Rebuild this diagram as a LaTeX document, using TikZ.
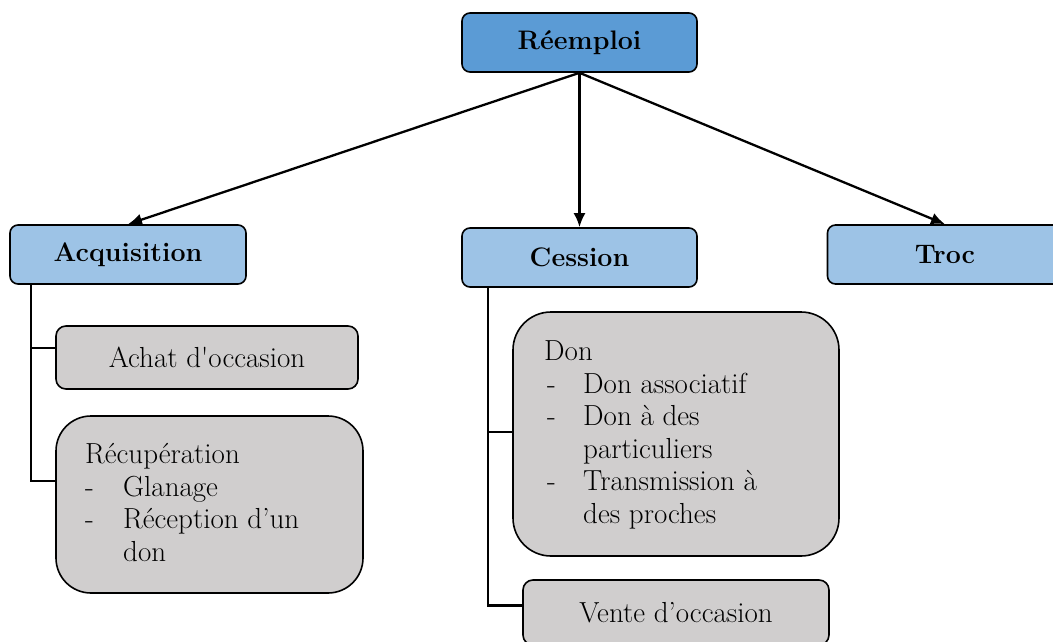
\documentclass[tikz,border=0pt]{standalone}
\usetikzlibrary{arrows.meta}
\definecolor{bluedark}{HTML}{5B9BD5}
\definecolor{bluelight}{HTML}{9DC3E6}
\definecolor{boxgray}{HTML}{D0CECE}
\begin{document}
\begin{tikzpicture}[x=1pt,y=-1pt,
  box/.style={draw, line width=1.6pt, rounded corners=8pt, inner sep=0pt},
  head/.style={box, fill=bluelight, minimum width=236pt, minimum height=59pt,
    font=\fontsize{26.8}{30}\selectfont\bfseries},
  sub/.style={box, fill=boxgray, font=\fontsize{29}{32.5}\selectfont},
  txt/.style={font=\fontsize{29}{32.5}\selectfont, anchor=north west, inner sep=0pt, align=left},
  conn/.style={line width=2.3pt},
  arr/.style={conn, -{Latex[length=14pt,width=12pt]}}]
\useasboundingbox (0,0) rectangle (1053,642);
\clip (0,0) rectangle (1053,642);

\node[head, fill=bluedark, minimum width=235pt] (reemploi) at (579.5,42.5) {Réemploi};
\node[head] (acq) at (128,254.5) {Acquisition};
\node[head, minimum width=235pt] (ces) at (579.5,257.5) {Cession};
\node[head, minimum width=235pt] (troc) at (945,254.5) {Troc};

\node[sub, rounded corners=10pt, minimum width=302pt, minimum height=63pt] (achat) at (207,357.5) {Achat d\textquotesingle occasion};
\node[sub, rounded corners=35pt, minimum width=307pt, minimum height=177pt] (recup) at (209.5,504.5) {};
\node[sub, rounded corners=38pt, minimum width=326pt, minimum height=244pt] (don) at (676,434) {};
\node[sub, rounded corners=10pt, minimum width=306pt, minimum height=65pt] (vente) at (676,612.5) {Vente d’occasion};

\node[txt] (recuptxt) at (85,441) {\strut Récupération\\
  \makebox[38pt][l]{-}Glanage\\
  \makebox[38pt][l]{-}Réception d’un\\
  \hspace*{38pt}don};
\node[txt] (dontxt) at (544,338) {\strut Don\\
  \makebox[39pt][l]{\hspace{3pt}-}Don associatif\\
  \makebox[39pt][l]{\hspace{3pt}-}Don à des\\
  \hspace*{39pt}particuliers\\
  \makebox[39pt][l]{\hspace{3pt}-}Transmission à\\
  \hspace*{39pt}des proches};

\draw[arr] (reemploi.south) -- (acq.north);
\draw[arr] (reemploi.south) -- (ces.north);
\draw[arr] (reemploi.south) -- (troc.north);

\coordinate (a0) at ([xshift=22pt]acq.south west);
\coordinate (aj) at ([yshift=9.5pt]achat.west);
\coordinate (rj) at ([yshift=23.5pt]recup.west);
\draw[conn] (a0) |- (rj);
\draw[conn] (aj) -- (aj -| a0);

\coordinate (c0) at ([xshift=27pt]ces.south west);
\coordinate (dj) at ([yshift=2pt]don.west);
\coordinate (vj) at ([yshift=7pt]vente.west);
\draw[conn] (c0) |- (vj);
\draw[conn] (dj) -- (dj -| c0);
\end{tikzpicture}
\end{document}
